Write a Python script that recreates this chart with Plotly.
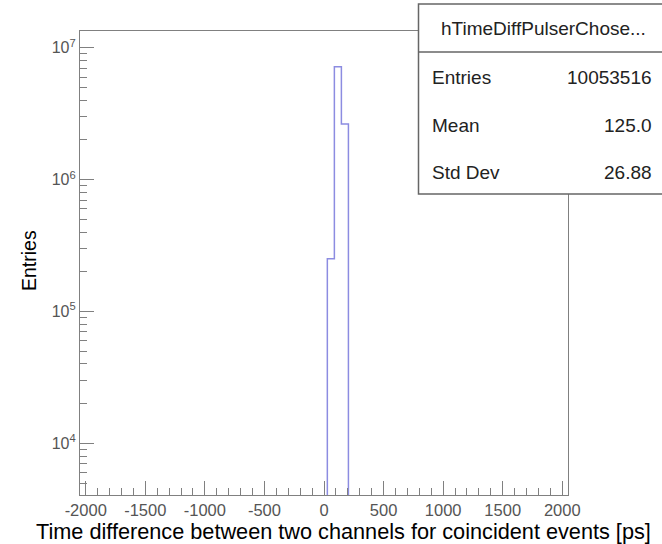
import math
import plotly.graph_objects as go

# ---- data ----
bin_edges = [28, 87, 146, 205]
bin_counts = [2.51e5, 7.18e6, 2.64e6]
x_range = [-2048, 2048]
x_tickvals = [-2000, -1500, -1000, -500, 0, 500, 1000, 1500, 2000]
x_ticktext = ["-2000", "-1500", "-1000", "-500", "0", "500", "1000", "1500", "2000"]
x_minor_step = 100
y_tickvals = [1e4, 1e5, 1e6, 1e7]
y_ticktext = ["10<sup>4</sup>", "10<sup>5</sup>", "10<sup>6</sup>", "10<sup>7</sup>"]
y_min, y_max = 4055, 1.34e7
stats_title = "hTimeDiffPulserChose..."
stats_labels = ["Entries", "Mean", "Std Dev"]
stats_values = ["10053516", "125.0", "26.88"]
x_title = "Time difference between two channels for coincident events [ps]"
y_title = "Entries"

W, H = 662, 544
L, R, T, B = 80, 568, 31, 495
pw, ph = R - L, B - T


def px(x):
    return (x - L) / pw


def py(y):
    return (B - y) / ph


floor = 1.0
xs = [bin_edges[0]] + list(bin_edges)
ys = [floor] + list(bin_counts) + [floor]

fig = go.Figure()
fig.add_trace(go.Scatter(
    x=xs, y=ys, mode="lines", line=dict(color="rgb(140,140,225)", width=1.5, shape="hv"),
    hoverinfo="skip", showlegend=False))
# invisible copy that activates the minor-tick overlay axes
fig.add_trace(go.Scatter(
    x=xs, y=ys, mode="lines", line=dict(color="rgba(0,0,0,0)", width=0, shape="hv"),
    hoverinfo="skip", showlegend=False, xaxis="x2", yaxis="y2"))

minor_x = [v for v in range(-2000, 2001, x_minor_step) if v not in x_tickvals]
minor_y = []
for k in range(3, 8):
    for m in range(2, 10):
        v = m * 10 ** k
        if y_min < v < y_max:
            minor_y.append(v)

axis_col = "#808080"
fam = "Liberation Sans, Arial, sans-serif"
tick_font = dict(family=fam, size=16.5, color="#555555")
ytick_font = dict(family=fam, size=16, color="#555555")
yr = [math.log10(y_min), math.log10(y_max)]

fig.update_layout(
    width=W, height=H,
    margin=dict(l=L, r=W - R, t=T, b=H - B, pad=0),
    paper_bgcolor="white", plot_bgcolor="white",
    showlegend=False,
    xaxis=dict(
        range=x_range, tickmode="array", tickvals=x_tickvals, ticktext=x_ticktext,
        ticks="inside", ticklen=14, tickwidth=1.2, tickcolor=axis_col,
        showline=True, linecolor=axis_col, linewidth=1.2,
        mirror=True, showgrid=False, zeroline=False, tickfont=tick_font,
    ),
    yaxis=dict(
        type="log", range=yr, tickmode="array",
        tickvals=y_tickvals, ticktext=y_ticktext, ticks="inside", ticklen=14, tickwidth=1.2,
        tickcolor=axis_col, showline=True, linecolor=axis_col, linewidth=1.2, mirror=True,
        showgrid=False, zeroline=False, tickfont=ytick_font,
    ),
    xaxis2=dict(
        overlaying="x", anchor="y", range=x_range, tickmode="array", tickvals=minor_x,
        ticks="inside", ticklen=7, tickwidth=1.2, tickcolor=axis_col, showticklabels=False,
        showline=False, showgrid=False, zeroline=False, side="bottom",
    ),
    yaxis2=dict(
        overlaying="y", anchor="x", type="log", range=yr, tickmode="array", tickvals=minor_y,
        ticks="inside", ticklen=7, tickwidth=1.2, tickcolor=axis_col, showticklabels=False,
        showline=False, showgrid=False, zeroline=False, side="left",
    ),
)

fig.add_annotation(text=x_title, xref="paper", yref="paper", x=px(343.5), y=py(531),
                   showarrow=False, xanchor="center", yanchor="middle",
                   font=dict(family=fam, size=21.7, color="black"))
fig.add_annotation(text=y_title, xref="paper", yref="paper", x=px(29), y=py(261),
                   showarrow=False, xanchor="center", yanchor="middle", textangle=-90,
                   font=dict(family=fam, size=19.5, color="black"))

bx0, bx1, by0, by1, bsep = 418.5, 700, 4, 194, 52
fig.add_shape(type="rect", xref="paper", yref="paper",
              x0=px(bx0), x1=px(bx1), y0=py(by1), y1=py(by0),
              line=dict(color="#666666", width=1.5), fillcolor="white", layer="above")
fig.add_shape(type="line", xref="paper", yref="paper",
              x0=px(bx0), x1=px(bx1), y0=py(bsep), y1=py(bsep),
              line=dict(color="#666666", width=1.5), layer="above")
sfont = dict(family=fam, size=19, color="#222222")
fig.add_annotation(text=stats_title, xref="paper", yref="paper", x=px(543), y=py(28),
                   showarrow=False, xanchor="center", yanchor="middle", font=sfont)
row_y = [77, 125, 172]
for lab, val, ry in zip(stats_labels, stats_values, row_y):
    fig.add_annotation(text=lab, xref="paper", yref="paper", x=px(430), y=py(ry),
                       showarrow=False, xanchor="left", yanchor="middle", font=sfont)
    fig.add_annotation(text=val, xref="paper", yref="paper", x=px(654), y=py(ry),
                       showarrow=False, xanchor="right", yanchor="middle", font=sfont)

fig.write_html("out.html")
